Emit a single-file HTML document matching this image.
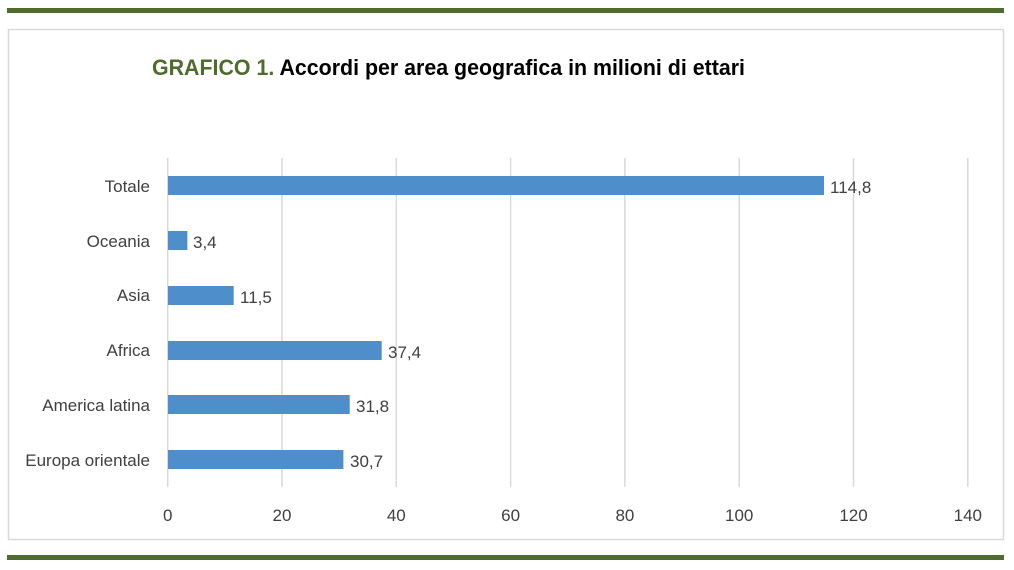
<!DOCTYPE html>
<html><head><meta charset="utf-8"><style>
html,body{margin:0;padding:0;background:#fff;}
svg{display:block;}
text{font-family:"Liberation Sans",sans-serif;}
</style></head><body>
<svg width="1014" height="570" viewBox="0 0 1014 570">
<rect x="7" y="8" width="997" height="5" fill="#4f6b2e"/>
<rect x="7" y="555" width="997" height="5" fill="#4f6b2e"/>
<rect x="8.5" y="29.5" width="995" height="510" fill="#fff" stroke="#d9d9d9" stroke-width="1.5"/>
<text x="152" y="75" font-size="22" font-weight="bold" textLength="593" lengthAdjust="spacingAndGlyphs"><tspan fill="#4f6b2e">GRAFICO 1.</tspan><tspan fill="#000"> Accordi per area geografica in milioni di ettari</tspan></text>
<g stroke="#d9d9d9" stroke-width="1.5">
<line x1="167.7" y1="158" x2="167.7" y2="487"/>
<line x1="282" y1="158" x2="282" y2="487"/>
<line x1="396.3" y1="158" x2="396.3" y2="487"/>
<line x1="510.6" y1="158" x2="510.6" y2="487"/>
<line x1="624.9" y1="158" x2="624.9" y2="487"/>
<line x1="739.2" y1="158" x2="739.2" y2="487"/>
<line x1="853.5" y1="158" x2="853.5" y2="487"/>
<line x1="967.8" y1="158" x2="967.8" y2="487"/>
</g>
<g fill="#4e8ecb">
<rect x="168" y="176" width="656" height="19"/>
<rect x="168" y="231" width="19.4" height="19"/>
<rect x="168" y="286" width="65.7" height="19"/>
<rect x="168" y="341" width="213.7" height="19"/>
<rect x="168" y="395" width="181.7" height="19"/>
<rect x="168" y="450" width="175.4" height="19"/>
</g>
<g font-size="17" fill="#404040" text-anchor="end">
<text x="150" y="192">Totale</text>
<text x="150" y="247">Oceania</text>
<text x="150" y="301">Asia</text>
<text x="150" y="356">Africa</text>
<text x="150" y="411">America latina</text>
<text x="150" y="466">Europa orientale</text>
</g>
<g font-size="17" fill="#404040">
<text x="830" y="193">114,8</text>
<text x="193" y="248">3,4</text>
<text x="240" y="303">11,5</text>
<text x="388" y="358">37,4</text>
<text x="356" y="412">31,8</text>
<text x="350" y="467">30,7</text>
</g>
<g font-size="17" fill="#404040" text-anchor="middle">
<text x="167.7" y="521">0</text>
<text x="282" y="521">20</text>
<text x="396.3" y="521">40</text>
<text x="510.6" y="521">60</text>
<text x="624.9" y="521">80</text>
<text x="739.2" y="521">100</text>
<text x="853.5" y="521">120</text>
<text x="967.8" y="521">140</text>
</g>
</svg>
</body></html>
